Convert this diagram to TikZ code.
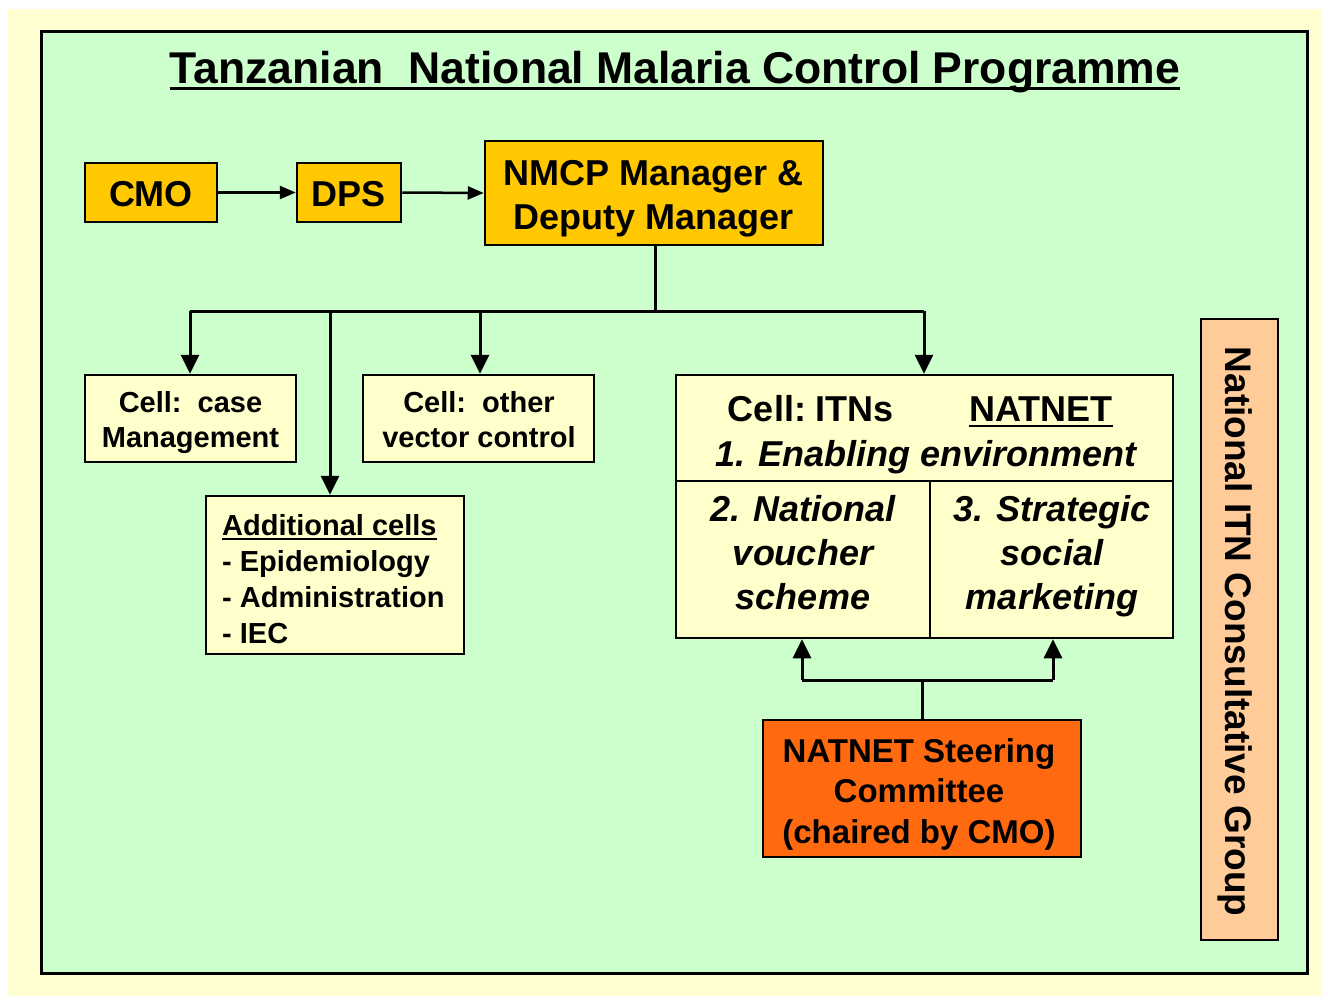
\documentclass[tikz,border=0pt]{standalone}
\usepackage{fontspec}
\setmainfont{Liberation Sans}
\usetikzlibrary{arrows.meta}
\definecolor{bgyellow}{HTML}{FFFFD2}
\definecolor{bggreen}{HTML}{CCFFCC}
\definecolor{cream}{HTML}{FFFFCC}
\definecolor{gold}{HTML}{FFC800}
\definecolor{steerorange}{HTML}{FF6A10}
\definecolor{peach}{HTML}{FFCC99}
\tikzset{
  box/.style={draw=black, line width=2.5pt, inner sep=0pt, align=center},
  conn/.style={line width=3pt},
  arr/.style={line width=3pt, -{Triangle[length=19pt,width=18pt]}},
  smallarr/.style={line width=2.5pt, -{Triangle[length=16pt,width=13pt]}},
  txt/.style={inner sep=0pt, anchor=base},
  ftitle/.style={font=\fontsize{44.5}{50}\selectfont\bfseries},
  fbig/.style={font=\fontsize{36}{43}\selectfont\bfseries},
  fcell/.style={font=\fontsize{29}{35}\selectfont\bfseries},
  fitn/.style={font=\fontsize{36}{44}\selectfont\bfseries},
  fitni/.style={font=\fontsize{36}{44}\selectfont\bfseries\itshape},
  fsteer/.style={font=\fontsize{33}{40}\selectfont\bfseries},
}
\begin{document}
\begin{tikzpicture}[x=1pt,y=-1pt]
\useasboundingbox (0,0) rectangle (1328,999);
\fill[white] (0,0) rectangle (1328,999);
\fill[bgyellow] (8,9) rectangle (1322,996);
\draw[line width=3pt, fill=bggreen] (41,31) rectangle (1307,973);

% title
\node[txt, ftitle] (title) at (675,83) {Tanzanian\ \ National Malaria Control Programme};
\draw[line width=3pt] ([yshift=-5pt]title.base west) -- ([yshift=-5pt]title.base east);

% top row
\node[box, fill=gold, minimum width=132pt, minimum height=59pt, fbig] (cmo) at (151,192.5) {};
\node[txt, fbig] (cmot) at (151,206) {CMO};
\node[box, fill=gold, minimum width=104pt, minimum height=59pt, fbig] (dps) at (349,192.5) {};
\node[txt, fbig] (dpst) at (349,206) {DPS};
\node[box, fill=gold, minimum width=338pt, minimum height=104pt] (nmcp) at (654,193) {};
\node[txt, fbig] (nm1) at (654,185) {NMCP Manager \&};
\node[txt, fbig] (nm2) at (654,229) {Deputy Manager};
\draw[smallarr] (cmo.east) -- (dps.west);
\draw[smallarr] (dps.east) -- (nmcp.west);

% cells
\node[box, fill=cream, minimum width=211pt, minimum height=87pt] (case) at (190.5,418.5) {};
\node[txt, fcell] (case1) at (190.5,412) {Cell:\ \ case};
\node[txt, fcell] (case2) at (190.5,447) {Management};
\node[box, fill=cream, minimum width=231pt, minimum height=87pt] (other) at (478.5,418.5) {};
\node[txt, fcell] (oth1) at (479,412) {Cell:\ \ other};
\node[txt, fcell] (oth2) at (479,447) {vector control};
\node[box, fill=cream, minimum width=258pt, minimum height=158pt] (addl) at (335,575) {};
\node[txt, anchor=base west, fcell] (addh) at (222,535) {Additional cells};
\draw[line width=2pt] ([yshift=-4pt]addh.base west) -- ([yshift=-4pt]addh.base east);
\node[txt, anchor=base west, fcell] (adda) at (222,571) {- Epidemiology};
\node[txt, anchor=base west, fcell] (addb) at (222,607) {- Administration};
\node[txt, anchor=base west, fcell] (addc) at (222,643) {- IEC};

% ITN cell
\node[box, fill=cream, minimum width=497pt, minimum height=263pt] (itn) at (924.5,506.5) {};
\coordinate (div) at (930,481);
\draw[line width=2.5pt] (itn.west |- div) -- (itn.east |- div);
\draw[line width=2.5pt] (div) -- (div |- itn.south);
\node[txt, fitn] (itnh) at (811,421) {Cell:\ ITNs};
\node[txt, fitn] (natnet) at (1041,421) {NATNET};
\draw[line width=2.5pt] ([yshift=-5pt]natnet.base west) -- ([yshift=-5pt]natnet.base east);
\node[txt, fitni] (en) at (926,466) {1. Enabling environment};
\node[txt, fitni] (v1) at (803,521) {2. National};
\node[txt, fitni] (v2) at (803,565) {voucher};
\node[txt, fitni] (v3) at (803,609) {scheme};
\node[txt, fitni] (s1) at (1052,521) {3. Strategic};
\node[txt, fitni] (s2) at (1052,565) {social};
\node[txt, fitni] (s3) at (1052,609) {marketing};

% branch from manager
\coordinate (br) at (655,311);
\coordinate (brl) at (190,311);
\coordinate (brr) at (924,311);
\draw[conn] (nmcp.south -| br) -- (br);
\draw[conn] (brl) -- (brr);
\draw[arr] (brl) -- (case.north -| brl);
\draw[arr] (330,311) -- ([xshift=-5pt]addl.north);
\draw[arr] (480,311) -- (other.north -| 480,0);
\draw[arr] (brr) -- (itn.north -| brr);

% steering committee
\node[box, fill=steerorange, minimum width=318pt, minimum height=137pt] (steer) at (922,788.5) {};
\node[txt, fsteer] (st1) at (919,762) {NATNET Steering};
\node[txt, fsteer] (st2) at (919,802) {Committee};
\node[txt, fsteer] (st3) at (919,843) {(chaired by CMO)};
\coordinate (sj) at (922,680);
\coordinate (sl) at (802,680);
\coordinate (sr) at (1053,680);
\draw[conn] (steer.north) -- (sj);
\draw[conn] (sl) -- (sr);
\draw[arr] (sl) -- (sl |- itn.south);
\draw[arr] (sr) -- (sr |- itn.south);

% consultative group
\node[box, fill=peach, minimum width=77pt, minimum height=621pt] (cg) at (1239.5,629.5) {};
\node[inner sep=0pt, rotate=-90, font=\fontsize{37}{44}\selectfont\bfseries] (cgt) at (1235,631.5) {National ITN Consultative Group};
\end{tikzpicture}
\end{document}
